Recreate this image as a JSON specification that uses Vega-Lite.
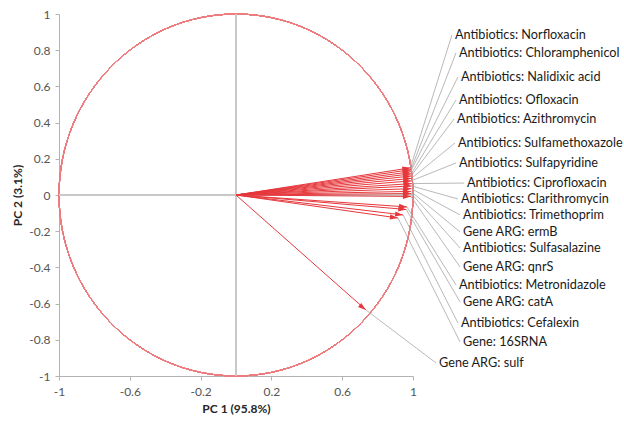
{
  "$schema": "https://vega.github.io/schema/vega-lite/v6.json",
  "autosize": "none",
  "width": 354,
  "height": 362,
  "padding": {"left": 59, "top": 14, "right": 211, "bottom": 51},
  "background": "white",
  "config": {
    "locale": {"number": {"decimal": ".", "thousands": ",", "grouping": [3], "currency": ["$", ""], "minus": "-"}},
    "view": {"stroke": null},
    "font": "Lato",
    "axis": {
      "domainColor": "#b3b3b3",
      "tickColor": "#b3b3b3",
      "grid": false,
      "labelColor": "#555555",
      "labelFontSize": 12,
      "labelFont": "Lato",
      "titleFont": "Lato",
      "titleFontSize": 12,
      "titleFontWeight": "bold",
      "titleColor": "#262626",
      "tickSize": 4,
      "labelOverlap": false,
      "labelFlush": false
    }
  },
  "data": {
    "values": [
      {"name": "Antibiotics: Norfloxacin", "pc1": 0.985, "pc2": 0.150, "lx": 1.220, "ly": 0.884},
      {"name": "Antibiotics: Chloramphenicol", "pc1": 0.988, "pc2": 0.140, "lx": 1.243, "ly": 0.785},
      {"name": "Antibiotics: Nalidixic acid", "pc1": 0.986, "pc2": 0.128, "lx": 1.254, "ly": 0.652},
      {"name": "Antibiotics: Ofloxacin", "pc1": 0.990, "pc2": 0.117, "lx": 1.243, "ly": 0.525},
      {"name": "Antibiotics: Azithromycin", "pc1": 0.989, "pc2": 0.105, "lx": 1.232, "ly": 0.420},
      {"name": "Antibiotics: Sulfamethoxazole", "pc1": 0.992, "pc2": 0.092, "lx": 1.237, "ly": 0.287},
      {"name": "Antibiotics: Sulfapyridine", "pc1": 0.990, "pc2": 0.078, "lx": 1.243, "ly": 0.177},
      {"name": "Antibiotics: Ciprofloxacin", "pc1": 0.993, "pc2": 0.063, "lx": 1.288, "ly": 0.066},
      {"name": "Antibiotics: Clarithromycin", "pc1": 0.992, "pc2": 0.050, "lx": 1.254, "ly": -0.022},
      {"name": "Antibiotics: Trimethoprim", "pc1": 0.990, "pc2": 0.035, "lx": 1.266, "ly": -0.110},
      {"name": "Gene ARG: ermB", "pc1": 0.988, "pc2": 0.020, "lx": 1.266, "ly": -0.204},
      {"name": "Antibiotics: Sulfasalazine", "pc1": 0.990, "pc2": 0.008, "lx": 1.266, "ly": -0.293},
      {"name": "Gene ARG: qnrS", "pc1": 0.988, "pc2": -0.008, "lx": 1.266, "ly": -0.398},
      {"name": "Antibiotics: Metronidazole", "pc1": 0.966, "pc2": -0.066, "lx": 1.243, "ly": -0.497},
      {"name": "Gene ARG: catA", "pc1": 0.962, "pc2": -0.080, "lx": 1.266, "ly": -0.591},
      {"name": "Antibiotics: Cefalexin", "pc1": 0.944, "pc2": -0.110, "lx": 1.254, "ly": -0.707},
      {"name": "Gene: 16SRNA", "pc1": 0.915, "pc2": -0.127, "lx": 1.266, "ly": -0.812},
      {"name": "Gene ARG: sulf", "pc1": 0.734, "pc2": -0.635, "lx": 1.130, "ly": -0.928}
    ]
  },
  "layer": [
    {
      "mark": {"type": "point", "shape": "M -1 0 A 1 1.0226 0 1 1 1 0 A 1 1.0226 0 1 1 -1 0 Z", "size": 125316, "filled": false, "stroke": "#ee7b7d", "strokeWidth": 1, "opacity": 1},
      "encoding": {
        "x": {"datum": 0, "type": "quantitative",
          "scale": {"domain": [-1, 1], "nice": false, "zero": false},
          "axis": {"values": [-1, -0.8, -0.6, -0.4, -0.2, 0, 0.2, 0.4, 0.6, 0.8, 1], "format": ".1~f",
            "labelOpacity": {"condition": {"test": "abs(round(datum.value*10)) % 4 == 0 && abs(round(datum.value*10)) != 10", "value": 0}, "value": 1},
            "title": "PC 1 (95.8%)", "labelPadding": 6, "titlePadding": 6}},
        "y": {"datum": 0, "type": "quantitative",
          "scale": {"domain": [-1, 1], "nice": false, "zero": false},
          "axis": {"tickCount": 10, "format": ".1~f", "labelOverlap": false,
            "title": "PC 2 (3.1%)", "labelPadding": 5, "titlePadding": 4}}
      }
    },
    {
      "mark": {"type": "rule", "color": "#c8c8c8", "strokeWidth": 1},
      "encoding": {
        "x": {"datum": 0, "type": "quantitative"}
      }
    },
    {
      "mark": {"type": "rule", "color": "#c8c8c8", "strokeWidth": 1},
      "encoding": {
        "y": {"datum": 0, "type": "quantitative"}
      }
    },
    {
      "mark": {"type": "rule", "color": "#a6a6a6", "strokeWidth": 0.8},
      "encoding": {
        "x": {"field": "pc1", "type": "quantitative"},
        "y": {"field": "pc2", "type": "quantitative"},
        "x2": {"field": "lx"},
        "y2": {"field": "ly"}
      }
    },
    {
      "mark": {"type": "rule", "color": "#e6383c", "strokeWidth": 1},
      "encoding": {
        "x": {"field": "pc1", "type": "quantitative"},
        "y": {"field": "pc2", "type": "quantitative"},
        "x2": {"datum": 0},
        "y2": {"datum": 0}
      }
    },
    {
      "mark": {"type": "point", "shape": "M 0 0 L -2 -0.65 L -2 0.65 Z", "size": 64, "filled": true, "color": "#e6383c", "opacity": 1},
      "encoding": {
        "x": {"field": "pc1", "type": "quantitative"},
        "y": {"field": "pc2", "type": "quantitative"},
        "angle": {"field": "pc2", "type": "quantitative", "scale": {"domain": [-1, 1], "range": [60, -60]}, "legend": null}
      }
    },
    {
      "mark": {"type": "text", "align": "left", "baseline": "middle", "dx": 3, "fontSize": 12.7, "color": "#1a1a1a", "font": "Lato"},
      "encoding": {
        "x": {"field": "lx", "type": "quantitative"},
        "y": {"field": "ly", "type": "quantitative"},
        "text": {"field": "name"}
      }
    }
  ]
}
